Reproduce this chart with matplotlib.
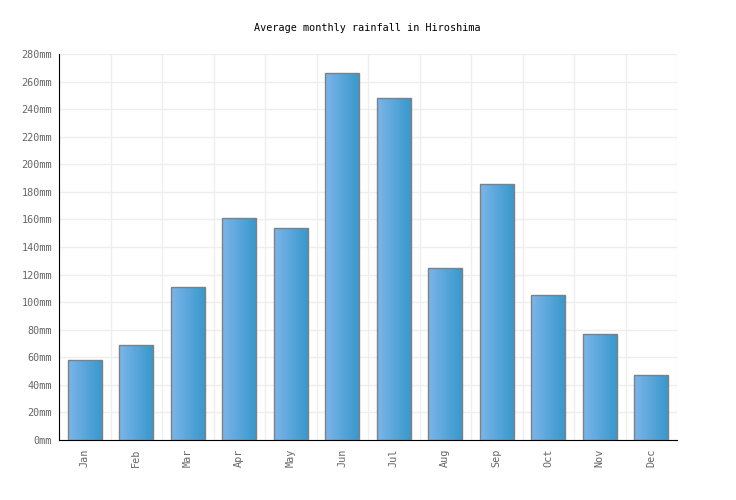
import matplotlib.pyplot as plt
import numpy as np
from matplotlib.colors import LinearSegmentedColormap

months = ["Jan", "Feb", "Mar", "Apr", "May", "Jun",
          "Jul", "Aug", "Sep", "Oct", "Nov", "Dec"]
rainfall_mm = [58, 69, 111, 161, 154, 266, 248, 125, 186, 105, 77, 47]
y_ticks = list(range(0, 281, 20))

plt.rcParams["font.family"] = ["DejaVu Sans Mono"]

fig = plt.figure(figsize=(7.36, 5.0), dpi=100)
ax = fig.add_axes([59 / 736, 60 / 500, 618 / 736, 386 / 500])

x = np.arange(len(months))
bars = ax.bar(x, rainfall_mm, width=0.66, color="none",
              edgecolor="#808080", linewidth=1, zorder=3)

# left-to-right gradient inside each bar
cmap = LinearSegmentedColormap.from_list("rain", ["#7cb5ea", "#3898cc"])
grad = np.linspace(0, 1, 256).reshape(1, -1)
for bar in bars:
    x0, y0 = bar.get_x(), bar.get_y()
    w, h = bar.get_width(), bar.get_height()
    im = ax.imshow(grad, cmap=cmap, aspect="auto",
                   extent=[x0, x0 + w, y0, y0 + h], zorder=2)
    im.set_clip_path(bar)

ax.set_xlim(-0.5, len(months) - 0.5)
ax.set_ylim(0, 280)

ax.set_yticks(y_ticks)
ax.set_yticklabels([f"{v}mm" for v in y_ticks])
ax.set_xticks(x)
ax.set_xticklabels(months, rotation=90)
ax.tick_params(axis="both", length=0, labelsize=7.3, colors="#666666")
ax.tick_params(axis="y", pad=5)
ax.tick_params(axis="x", pad=6)

# grid at category boundaries and value ticks
ax.set_xticks(np.arange(len(months) + 1) - 0.5, minor=True)
ax.tick_params(axis="x", which="minor", length=0)
ax.grid(True, which="minor", axis="x", color="#eeeeee", linewidth=1, zorder=0)
ax.grid(True, which="major", axis="y", color="#eeeeee", linewidth=1, zorder=0)
ax.set_axisbelow(True)

for side in ["top", "right"]:
    ax.spines[side].set_visible(False)
ax.spines["left"].set_color("black")
ax.spines["bottom"].set_color("black")

fig.text(367 / 736, 1 - 28 / 500, "Average monthly rainfall in Hiroshima",
         ha="center", va="center", fontsize=7.3, color="black")

fig.savefig("out.png", dpi=100)
